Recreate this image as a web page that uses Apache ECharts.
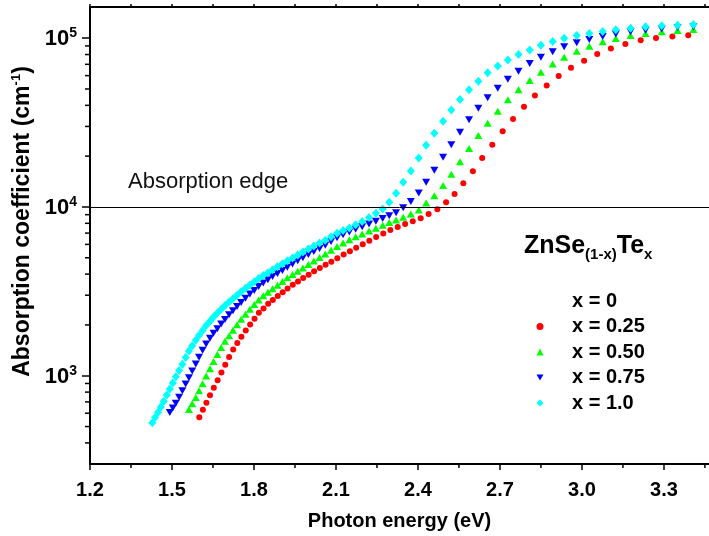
<!DOCTYPE html>
<html>
<head>
<meta charset="utf-8">
<script src="https://cdn.jsdelivr.net/npm/echarts@6/dist/echarts.min.js"></script>
<style>
html, body { margin: 0; padding: 0; background: #fff; }
#chart { width: 709px; height: 536px; }
</style>
</head>
<body>
<div id="chart"></div>
<script>
// photon energy (eV) of the measured points, high energy first
var energyGrid = [3.408, 3.350, 3.292, 3.233, 3.178, 3.124, 3.076, 3.027, 2.981, 2.935,
	2.893, 2.850, 2.809, 2.768, 2.729, 2.692, 2.655, 2.621, 2.587, 2.554,
	2.522, 2.492, 2.460, 2.430, 2.403, 2.374, 2.346, 2.320, 2.295, 2.271,
	2.246, 2.221, 2.196, 2.172, 2.149, 2.126, 2.104, 2.082, 2.061, 2.040,
	2.019, 1.999, 1.979, 1.960, 1.941, 1.922, 1.904, 1.886, 1.868, 1.851,
	1.834, 1.817, 1.801, 1.785, 1.769, 1.753, 1.738, 1.723, 1.709, 1.694,
	1.680, 1.666, 1.652, 1.639, 1.625, 1.612, 1.599, 1.587, 1.574, 1.562,
	1.550, 1.538, 1.526, 1.514, 1.503, 1.492, 1.481, 1.470, 1.459, 1.449,
	1.438, 1.428];
var energyRed = [3.389, 3.331, 3.271, 3.215, 3.159, 3.106, 3.056, 3.008, 2.960, 2.915,
	2.871, 2.828, 2.788, 2.748, 2.710, 2.672, 2.635, 2.601, 2.566, 2.534,
	2.503, 2.471, 2.439, 2.410, 2.381, 2.353, 2.326, 2.299, 2.273, 2.247,
	2.222, 2.198, 2.174, 2.151, 2.128, 2.105, 2.083, 2.062, 2.041, 2.020,
	2.000, 1.980, 1.961, 1.942, 1.923, 1.905, 1.887, 1.869, 1.852, 1.835,
	1.818, 1.802, 1.786, 1.770, 1.754, 1.739, 1.724, 1.709, 1.695, 1.681,
	1.667, 1.653, 1.639, 1.626, 1.613, 1.600];

// absorption coefficient (cm^-1)
var alphaRed = [104000, 102200, 100100, 97200, 92500, 86800, 80700, 73600, 66700, 59600,
	52400, 45700, 39300, 33200, 28100, 23400, 19500, 16300, 13800, 11940,
	10650, 9680, 9090, 8560, 8215, 7930, 7611, 7308, 6956, 6632,
	6313, 6010, 5737, 5470, 5228, 4974, 4741, 4544, 4355, 4158,
	3970, 3789, 3618, 3463, 3288, 3126, 2972, 2814, 2668, 2502,
	2359, 2174, 2009, 1853, 1705, 1562, 1432, 1290, 1160, 1044,
	942, 848, 766, 693, 628, 568];
var alphaGreen = [112500, 110900, 109000, 106500, 103600, 99450, 95100, 89500, 83600, 77100,
	70400, 62800, 56100, 49400, 43100, 36900, 31300, 26500, 22200, 18500,
	15600, 13400, 11670, 10560, 9600, 9090, 8680, 8360, 8080, 7800,
	7487, 7197, 6918, 6650, 6383, 6118, 5825, 5537, 5265, 5012,
	4779, 4556, 4349, 4164, 3981, 3806, 3618, 3439, 3275, 3122,
	2976, 2810, 2642, 2479, 2312, 2162, 2003, 1858, 1724, 1599,
	1470, 1336, 1214, 1099, 996, 898, 816, 743, 683, 632];
var alphaBlue = [116700, 115600, 113500, 111400, 109000, 106000, 102200, 98100, 93800, 88900,
	83100, 77100, 70700, 63700, 57100, 50500, 44300, 38400, 32900, 27700,
	23400, 19700, 16500, 14000, 12100, 10790, 9900, 9250, 8870, 8535,
	8215, 7918, 7632, 7366, 7109, 6843, 6577, 6235, 5929, 5683,
	5447, 5221, 5005, 4799, 4587, 4391, 4210, 4041, 3879, 3708,
	3544, 3378, 3204, 3046, 2880, 2720, 2568, 2429, 2299, 2156,
	2025, 1899, 1788, 1666, 1543, 1418, 1287, 1173, 1066, 974,
	892, 815, 746, 688, 645, 605];
var alphaCyan = [120400, 119300, 118300, 116700, 114500, 112000, 109400, 106500, 103600, 99900,
	95500, 90800, 85200, 79950, 74350, 68500, 62300, 55500, 49400, 43250,
	37600, 32200, 27300, 23200, 19500, 16350, 14000, 12040, 10650, 9730,
	9165, 8665, 8204, 7833, 7508, 7247, 6975, 6650, 6348, 6109,
	5872, 5636, 5403, 5186, 4992, 4805, 4612, 4421, 4244, 4074,
	3922, 3770, 3603, 3443, 3297, 3143, 2996, 2860, 2735, 2610,
	2479, 2350, 2228, 2101, 1984, 1856, 1736, 1621, 1504, 1401,
	1282, 1170, 1073, 986, 905, 834, 768, 707, 653, 608,
	565, 526];

var seriesNames = ['x = 0', 'x = 0.25', 'x = 0.50', 'x = 0.75', 'x = 1.0'];
var edgeLevel = 10000;

var xMin = 1.2, xMax = 3.465;
var yMin = 300, yMax = 153000;
var xMajorTicks = [1.2, 1.5, 1.8, 2.1, 2.4, 2.7, 3.0, 3.3];
var xMinorTicks = [1.35, 1.65, 1.95, 2.25, 2.55, 2.85, 3.15, 3.45];
var yMajorTicks = [1000, 10000, 100000];
var yMinorTicks = [400, 500, 600, 700, 800, 900,
	2000, 3000, 4000, 5000, 6000, 7000, 8000, 9000,
	20000, 30000, 40000, 50000, 60000, 70000, 80000, 90000];

var font = 'Arial, "Liberation Sans", sans-serif';
var downTriangle = 'path://M0,0L10,0L5,8.5Z';

function pairs(xs, ys) {
	return ys.map(function (v, i) {
		return [xs[i], v];
	});
}

// small tick marks drawn through the axes' own scales
function minorTickX(params, api) {
	var p = api.coord([api.value(0), api.value(1)]);
	return {
		type: 'line',
		shape: { x1: p[0], y1: p[1], x2: p[0], y2: p[1] + 4 },
		style: { stroke: '#000', lineWidth: 1.5 }
	};
}
function minorTickY(params, api) {
	var p = api.coord([api.value(0), api.value(1)]);
	return {
		type: 'line',
		shape: { x1: p[0] - 5, y1: p[1], x2: p[0], y2: p[1] },
		style: { stroke: '#000', lineWidth: 1.5 }
	};
}

var chart = echarts.init(document.getElementById('chart'));

chart.setOption({
	animation: false,
	backgroundColor: '#fff',
	textStyle: { fontFamily: font, color: '#000' },
	title: [{
		text: '{m|ZnSe}{s|(1-x)}{m|Te}{s|x}',
		left: 519,
		top: 229,
		textStyle: {
			rich: {
				m: { fontFamily: font, fontSize: 25, fontWeight: 'bold', color: '#000', lineHeight: 28, verticalAlign: 'top' },
				s: { fontFamily: font, fontSize: 15, fontWeight: 'bold', color: '#000', lineHeight: 12, verticalAlign: 'bottom' }
			}
		}
	}, {
		text: 'Absorption edge',
		left: 123,
		top: 166,
		textStyle: { fontFamily: font, fontSize: 22, fontWeight: 'normal', color: '#111' }
	}],
	legend: {
		orient: 'vertical',
		left: 531.5,
		top: 286,
		itemWidth: 7,
		itemHeight: 7,
		itemGap: 5.5,
		selectedMode: false,
		textStyle: { fontFamily: font, fontSize: 20, fontWeight: 'bold', color: '#000', lineHeight: 20, padding: [0, 0, 0, 23.5] },
		data: [
			{ name: seriesNames[0], icon: 'none' },
			{ name: seriesNames[1], icon: 'circle' },
			{ name: seriesNames[2], icon: 'triangle' },
			{ name: seriesNames[3], icon: downTriangle },
			{ name: seriesNames[4], icon: 'diamond' }
		]
	},
	grid: { left: 90, right: 0, top: 7, bottom: 72 },
	xAxis: [{
		type: 'value',
		position: 'bottom',
		min: xMin,
		max: xMax,
		name: 'Photon energy (eV)',
		nameLocation: 'middle',
		nameGap: 47,
		nameTextStyle: { fontFamily: font, fontSize: 20, fontWeight: 'bold', color: '#000' },
		axisLine: { lineStyle: { color: '#000', width: 2 } },
		axisTick: { customValues: xMajorTicks, length: 6, lineStyle: { color: '#000', width: 1.5 } },
		axisLabel: {
			customValues: xMajorTicks,
			margin: 16,
			fontFamily: font,
			fontSize: 20,
			fontWeight: 'bold',
			color: '#000',
			formatter: function (v) { return v.toFixed(1); }
		},
		splitLine: { show: false }
	}, {
		type: 'value',
		position: 'top',
		min: xMin,
		max: xMax,
		axisLine: { lineStyle: { color: '#000', width: 2 } },
		axisTick: { customValues: xMajorTicks.concat(xMinorTicks), length: 3, lineStyle: { color: '#000', width: 1.5 } },
		axisLabel: { show: false },
		splitLine: { show: false }
	}],
	yAxis: [{
		type: 'log',
		min: yMin,
		max: yMax,
		name: '{t|Absorption coefficient (cm}{s|-1}{t|)}',
		nameLocation: 'middle',
		nameGap: 56,
		nameTextStyle: {
			padding: [0, 0, 0, 28],
			rich: {
				t: { fontFamily: font, fontSize: 23, fontWeight: 'bold', color: '#000', lineHeight: 24, verticalAlign: 'bottom' },
				s: { fontFamily: font, fontSize: 13, fontWeight: 'bold', color: '#000', lineHeight: 13, verticalAlign: 'top' }
			}
		},
		axisLine: { show: true, lineStyle: { color: '#000', width: 2 } },
		axisTick: { customValues: yMajorTicks, length: 8, lineStyle: { color: '#000', width: 1.5 } },
		axisLabel: {
			customValues: yMajorTicks,
			margin: 13,
			formatter: function (v) {
				return '{b|10}{s|' + Math.round(Math.log10(v)) + '}';
			},
			rich: {
				b: { fontFamily: font, fontSize: 22, fontWeight: 'bold', color: '#000', lineHeight: 24, verticalAlign: 'bottom' },
				s: { fontFamily: font, fontSize: 14, fontWeight: 'bold', color: '#000', lineHeight: 14, verticalAlign: 'top' }
			}
		},
		splitLine: { show: false }
	}],
	series: [{
		name: seriesNames[0],
		type: 'scatter',
		data: []
	}, {
		name: seriesNames[1],
		type: 'scatter',
		symbol: 'circle',
		symbolSize: 6,
		itemStyle: { color: '#ff0000', opacity: 1 },
		data: pairs(energyRed, alphaRed),
		markLine: {
			silent: true,
			symbol: 'none',
			label: { show: false },
			lineStyle: { color: '#000', width: 1, type: 'solid' },
			data: [{ yAxis: edgeLevel }]
		}
	}, {
		name: seriesNames[2],
		type: 'scatter',
		symbol: 'triangle',
		symbolSize: [8, 7],
		itemStyle: { color: '#00ff00', opacity: 1 },
		data: pairs(energyGrid, alphaGreen)
	}, {
		name: seriesNames[3],
		type: 'scatter',
		symbol: 'triangle',
		symbolRotate: 180,
		symbolSize: [8, 7],
		itemStyle: { color: '#0000ff', opacity: 1 },
		data: pairs(energyGrid, alphaBlue)
	}, {
		name: seriesNames[4],
		type: 'scatter',
		symbol: 'diamond',
		symbolSize: [8, 9],
		itemStyle: { color: '#00ffff', opacity: 1 },
		data: pairs(energyGrid, alphaCyan)
	}, {
		type: 'custom',
		silent: true,
		clip: false,
		renderItem: minorTickX,
		data: xMinorTicks.map(function (v) { return [v, yMin]; })
	}, {
		type: 'custom',
		silent: true,
		clip: false,
		renderItem: minorTickY,
		data: yMinorTicks.map(function (v) { return [xMin, v]; })
	}]
});
</script>
</body>
</html>
